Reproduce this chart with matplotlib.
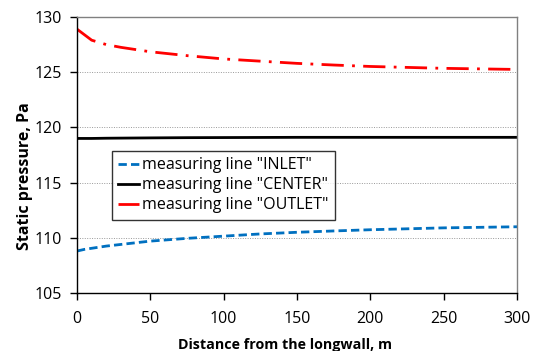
import matplotlib
matplotlib.use("Agg")
import matplotlib.pyplot as plt

# distance from the longwall, m
dist = [0, 5, 10, 20, 30, 50, 75, 100, 125, 150, 175, 200, 250, 300]
inlet = [108.8, 108.95, 109.05, 109.25, 109.4, 109.7, 109.95, 110.15, 110.35, 110.5, 110.62, 110.73, 110.9, 111.0]
center = [119.0, 119.0, 119.0, 119.02, 119.03, 119.05, 119.07, 119.08, 119.09, 119.1, 119.1, 119.1, 119.1, 119.1]
outlet = [128.9, 128.4, 127.9, 127.5, 127.25, 126.85, 126.5, 126.2, 126.0, 125.8, 125.65, 125.52, 125.35, 125.25]

xticks = [0, 50, 100, 150, 200, 250, 300]
yticks = [105, 110, 115, 120, 125, 130]

plt.rcParams["font.family"] = ["Open Sans", "DejaVu Sans"]

fig = plt.figure(figsize=(5.35, 3.51), dpi=100)
ax = fig.add_axes([77 / 535, 1 - 293 / 351, 440 / 535, 276 / 351])

for y in [110, 115, 120, 125]:
    ax.axhline(y, color="0.6", lw=0.7, ls=(0, (1, 1.5)), zorder=0)

ax.plot(dist, inlet, color="#0070c0", lw=2, ls=(0, (3, 1.5)), label='measuring line "INLET"')
ax.plot(dist, center, color="black", lw=2, label='measuring line "CENTER"')
ax.plot(dist, outlet, color="#ff0000", lw=2, ls=(0, (8, 3, 1, 3)), label='measuring line "OUTLET"')

ax.set_xlim(0, 300)
ax.set_ylim(105, 130)
ax.set_xticks(xticks)
ax.set_yticks(yticks)
ax.tick_params(direction="out", length=5, width=1, labelsize=11.5)
ax.tick_params(axis="x", pad=8)
ax.tick_params(axis="y", pad=6)

for s in ["left", "bottom"]:
    ax.spines[s].set_color("black")
    ax.spines[s].set_linewidth(1)
for s in ["top", "right"]:
    ax.spines[s].set_color("0.5")
    ax.spines[s].set_linewidth(1)

ax.set_xlabel("Distance from the longwall, m", fontsize=10.3, fontweight="bold", labelpad=8)
ax.set_ylabel("Static pressure, Pa", fontsize=11.5, fontweight="bold", labelpad=1)
ax.xaxis.label.set_x(0.473)
ax.yaxis.label.set_y(0.424)

leg = ax.legend(loc="upper left", bbox_to_anchor=(35 / 440, (293 - 151) / 276), fontsize=11.5,
                frameon=True, fancybox=False, handlelength=1.3, handletextpad=0.2,
                labelspacing=0.25, borderpad=0.4, borderaxespad=0)
leg.get_frame().set_edgecolor("black")
leg.get_frame().set_linewidth(1)

fig.savefig("out.png", dpi=100)
